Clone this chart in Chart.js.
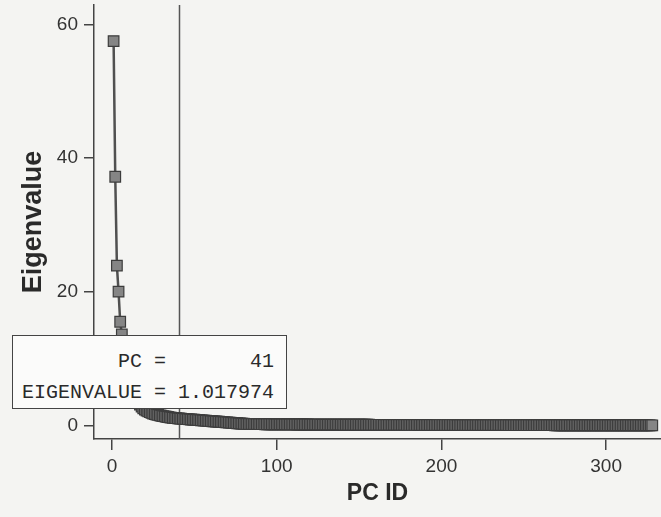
<!DOCTYPE html>
<html>
<head>
<meta charset="utf-8">
<script src="https://cdn.jsdelivr.net/npm/chart.js@4"></script>
<style>
  html, body { margin: 0; padding: 0; background: #f4f4f2; }
  #wrap { position: relative; width: 661px; height: 517px; }
  #pcBox {
    position: absolute; left: 12px; top: 335px; width: 275px; height: 74px;
    box-sizing: border-box; border: 1.5px solid #444; background: #fbfbfa;
    font: 20px "Liberation Mono", "DejaVu Sans Mono", monospace; color: #2a2a2a;
    white-space: pre; line-height: 31px; padding: 10px 0 0 9px;
  }
</style>
</head>
<body>
<div id="wrap">
  <canvas id="scree"></canvas>
  <div id="pcBox">        PC =       41
EIGENVALUE = 1.017974</div>
</div>
<script>
// eigenvalues, PC 1..328
const eigenvalues = [
  57.5, 37.2, 23.9, 20.0, 15.5, 13.6, 11.0, 9.3, 8.0, 6.9,
  6.0, 5.3, 4.7, 4.3, 4.0, 3.5, 3.1, 2.8, 2.55, 2.35,
  2.2, 2.07, 1.96, 1.86, 1.77, 1.69, 1.62, 1.55, 1.49, 1.43,
  1.38, 1.33, 1.28, 1.24, 1.20, 1.16, 1.12, 1.09, 1.06, 1.04,
  1.017974, 0.99, 0.97, 0.95, 0.93, 0.91, 0.89, 0.87, 0.85, 0.83,
  0.81, 0.79, 0.77, 0.75, 0.73, 0.71, 0.69, 0.67, 0.65, 0.63,
  0.61, 0.59, 0.57, 0.55, 0.53, 0.51, 0.49, 0.47, 0.45, 0.43,
  0.41, 0.39, 0.37, 0.35, 0.33, 0.31, 0.29, 0.27, 0.25, 0.23,
  0.205, 0.2, 0.196, 0.192, 0.188, 0.184, 0.18, 0.176, 0.172, 0.168, 0.165, 0.162, 0.159, 0.156, 0.153, 0.15, 0.148, 0.146, 0.144, 0.142,
  0.14, 0.139, 0.137, 0.136, 0.134, 0.133, 0.131, 0.13, 0.128, 0.127, 0.126, 0.124, 0.123, 0.122, 0.121, 0.12, 0.118, 0.117, 0.116, 0.115,
  0.114, 0.113, 0.112, 0.111, 0.11, 0.109, 0.108, 0.107, 0.106, 0.105, 0.104, 0.103, 0.102, 0.101, 0.1, 0.099, 0.098, 0.097, 0.096, 0.095,
  0.094, 0.093, 0.092, 0.091, 0.09, 0.089, 0.088, 0.087, 0.086, 0.085, 0.084, 0.083, 0.082, 0.081, 0.08, 0.079, 0.078, 0.077, 0.076, 0.075,
  0.074, 0.073, 0.072, 0.071, 0.07, 0.069, 0.068, 0.067, 0.066, 0.065, 0.064, 0.063, 0.062, 0.061, 0.06, 0.059, 0.058, 0.057, 0.056, 0.055,
  0.054, 0.053, 0.052, 0.051, 0.05, 0.049, 0.048, 0.047, 0.046, 0.045, 0.045, 0.044, 0.043, 0.043, 0.042, 0.041, 0.041, 0.04, 0.039, 0.039,
  0.038, 0.037, 0.037, 0.036, 0.036, 0.035, 0.034, 0.034, 0.033, 0.033, 0.032, 0.032, 0.031, 0.031, 0.03, 0.03, 0.029, 0.029, 0.028, 0.028,
  0.027, 0.027, 0.026, 0.026, 0.025, 0.025, 0.025, 0.024, 0.024, 0.023, 0.023, 0.023, 0.022, 0.022, 0.021, 0.021, 0.021, 0.02, 0.02, 0.02,
  0.019, 0.019, 0.019, 0.018, 0.018, 0.018, 0.017, 0.017, 0.017, 0.016, 0.016, 0.016, 0.016, 0.015, 0.015, 0.015, 0.014, 0.014, 0.014, 0.014,
  0.013, 0.013, 0.013, 0.013, 0.012, 0.012, 0.012, 0.012, 0.011, 0.011, 0.011, 0.011, 0.01, 0.01, 0.01, 0.01, 0.0095, 0.0092, 0.009, 0.0087,
  0.0085, 0.0082, 0.008, 0.0078, 0.0076, 0.0074, 0.0072, 0.007, 0.0068, 0.0066, 0.0064, 0.0062, 0.006, 0.0058, 0.0056, 0.0054, 0.0052, 0.005, 0.0048, 0.0046,
  0.0044, 0.0042, 0.004, 0.0038, 0.0036, 0.0034, 0.0032, 0.003, 0.0028, 0.0026, 0.0024, 0.0022, 0.002, 0.0018, 0.0016, 0.0014, 0.0012, 0.001, 0.0009, 0.0008,
  0.0007, 0.0006, 0.0005, 0.0004, 0.0003, 0.0002, 0.0001, 0.00005
];
const pcIds = eigenvalues.map((v, i) => i + 1);
const xTicks = [0, 100, 200, 300];
const yTicks = [0, 20, 40, 60];
const selectedPc = 41;

const X_MIN = -10.9, X_MAX = 333.3;
const Y_MIN = -2.05, Y_MAX = 62.9;

const axisColor = '#444';
const tickFont = { family: 'Liberation Sans, Arial, sans-serif', size: 19 };
const titleFont = { family: 'Liberation Sans, Arial, sans-serif', size: 27, weight: 'bold' };

new Chart(document.getElementById('scree'), {
  type: 'line',
  data: {
    datasets: [
      {
        data: pcIds.map((id, i) => ({ x: id, y: eigenvalues[i] })),
        borderColor: '#505050',
        borderWidth: 2.5,
        pointStyle: 'rect',
        pointRadius: 7.5,
        pointBackgroundColor: '#858585',
        pointBorderColor: '#3c3c3c',
        pointBorderWidth: 1.2,
        tension: 0,
      },
      {
        // reference line at the selected PC
        data: [{ x: selectedPc, y: Y_MIN }, { x: selectedPc, y: Y_MAX }],
        borderColor: '#555',
        borderWidth: 1.5,
        pointRadius: 0,
      },
    ],
  },
  options: {
    responsive: true,
    maintainAspectRatio: false,
    animation: false,
    layout: { autoPadding: false, padding: { top: 5, right: 0, left: 0, bottom: 0 } },
    plugins: { legend: { display: false }, tooltip: { enabled: false } },
    scales: {
      x: {
        type: 'linear',
        min: X_MIN,
        max: X_MAX,
        afterBuildTicks: s => { s.ticks = xTicks.map(v => ({ value: v })); },
        afterFit: s => { s.height = 78; s.paddingLeft = 0; s.paddingRight = 0; },
        grid: { drawOnChartArea: false, color: axisColor, lineWidth: 1.5, tickLength: 11 },
        border: { color: axisColor, width: 1.5 },
        ticks: { color: '#333', font: tickFont, padding: 5, maxRotation: 0 },
        title: { display: true, text: 'PC ID', color: '#2a2a2a', font: { ...titleFont, size: 23 }, padding: { top: 0, bottom: 10 } },
      },
      y: {
        type: 'linear',
        min: Y_MIN,
        max: Y_MAX,
        afterBuildTicks: s => { s.ticks = yTicks.map(v => ({ value: v })); },
        afterFit: s => { s.width = 94; s.paddingTop = 0; s.paddingBottom = 0; },
        grid: { drawOnChartArea: false, color: axisColor, lineWidth: 1.5, tickLength: 10 },
        border: { color: axisColor, width: 1.5 },
        ticks: { color: '#333', font: tickFont, padding: 6 },
        title: { display: true, text: 'Eigenvalue', color: '#2a2a2a', font: titleFont, padding: { top: 17, bottom: 0 } },
      },
    },
  },
});
</script>
</body>
</html>
